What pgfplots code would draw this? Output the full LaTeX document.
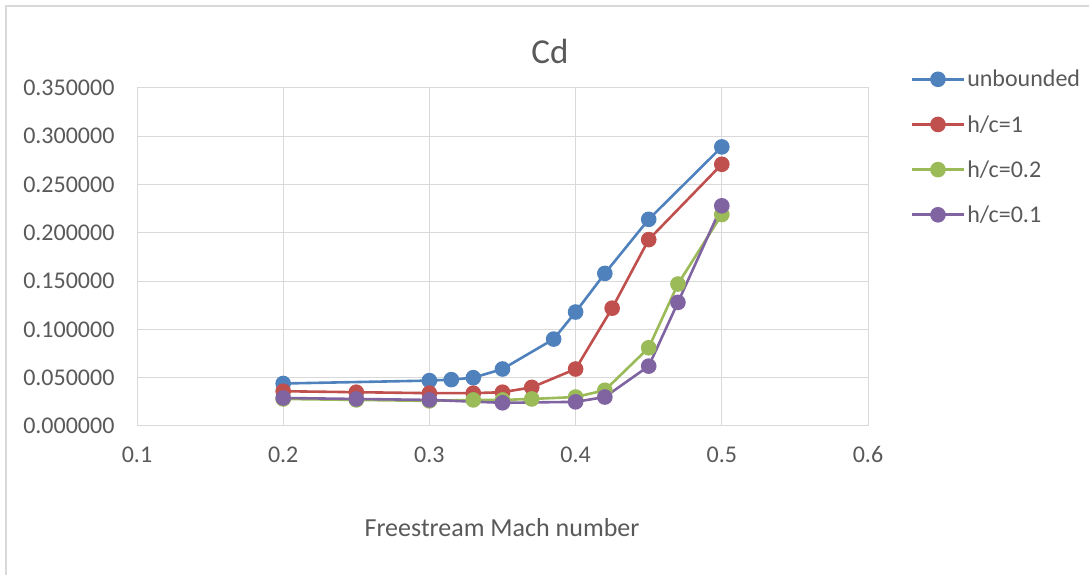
\documentclass[border=0pt]{standalone}
\usepackage{pgfplots}
\pgfplotsset{compat=1.18}
\usepackage{fontspec}
\setmainfont{Carlito}

\definecolor{cblue}{HTML}{4F81BD}
\definecolor{cred}{HTML}{C0504D}
\definecolor{cgreen}{HTML}{9BBB59}
\definecolor{cpurple}{HTML}{8064A2}
\definecolor{txt}{HTML}{595959}
\definecolor{gridc}{HTML}{D9D9D9}

\begin{document}
\begin{tikzpicture}[x=1pt,y=1pt]
\useasboundingbox (0,0) rectangle (1089,575);
\draw[gridc, line width=1.2pt] (6,0) -- (6,569) -- (1089,569);
\node[text=txt, font=\fontsize{35}{40}\selectfont] at (550,524) {Cd};
\node[text=txt, font=\fontsize{26}{30}\selectfont] at (502,47) {Freestream Mach number};
\begin{axis}[
  at={(137pt,149pt)}, anchor=south west,
  scale only axis,
  width=731pt, height=338pt,
  xmin=0.1, xmax=0.6,
  ymin=0, ymax=0.35,
  xtick={0.1,0.2,0.3,0.4,0.5,0.6},
  ytick={0,0.05,0.1,0.15,0.2,0.25,0.3,0.35},
  scaled ticks=false,
  grid=major,
  major grid style={gridc, line width=1pt},
  axis line style={gridc, line width=1pt},
  tick style={draw=none},
  /pgf/number format/assume math mode=true,
  yticklabel style={/pgf/number format/fixed, /pgf/number format/fixed zerofill, /pgf/number format/precision=6, xshift=-19pt},
  xticklabel style={/pgf/number format/fixed, /pgf/number format/precision=1, yshift=-17pt},
  ticklabel style={text=txt, font=\fontsize{24}{28}\selectfont},
  every axis plot/.append style={line width=2.6pt, mark=*, mark size=6.5pt},
  legend cell align=left,
  legend style={at={(1.054,1.065)}, anchor=north west, draw=none, fill=none,
    font=\fontsize{24}{28}\selectfont, text=txt, row sep=23pt,
    /tikz/every even column/.append style={column sep=4pt}},
  legend image code/.code={\draw[line width=2.6pt, mark repeat=2,mark phase=2] plot coordinates {(0pt,0pt)(26pt,0pt)(52pt,0pt)};},
]
\addplot[color=cblue, mark options={fill=cblue}] coordinates {
  (0.2,0.044) (0.3,0.047) (0.315,0.048) (0.33,0.050) (0.35,0.059)
  (0.385,0.090) (0.4,0.118) (0.42,0.158) (0.45,0.214) (0.5,0.289)
};
\addlegendentry{unbounded}
\addplot[color=cred, mark options={fill=cred}] coordinates {
  (0.2,0.036) (0.25,0.035) (0.3,0.034) (0.33,0.034) (0.35,0.035)
  (0.37,0.040) (0.4,0.059) (0.425,0.122) (0.45,0.193) (0.5,0.271)
};
\addlegendentry{h/c=1}
\addplot[color=cgreen, mark options={fill=cgreen}] coordinates {
  (0.2,0.028) (0.25,0.027) (0.3,0.026) (0.33,0.027) (0.35,0.027)
  (0.37,0.028) (0.4,0.030) (0.42,0.037) (0.45,0.081) (0.47,0.147) (0.5,0.219)
};
\addlegendentry{h/c=0.2}
\addplot[color=cpurple, mark options={fill=cpurple}] coordinates {
  (0.2,0.029) (0.25,0.028) (0.3,0.027) (0.35,0.024) (0.4,0.025)
  (0.42,0.030) (0.45,0.062) (0.47,0.128) (0.5,0.228)
};
\addlegendentry{h/c=0.1}
\end{axis}
\end{tikzpicture}
\end{document}
